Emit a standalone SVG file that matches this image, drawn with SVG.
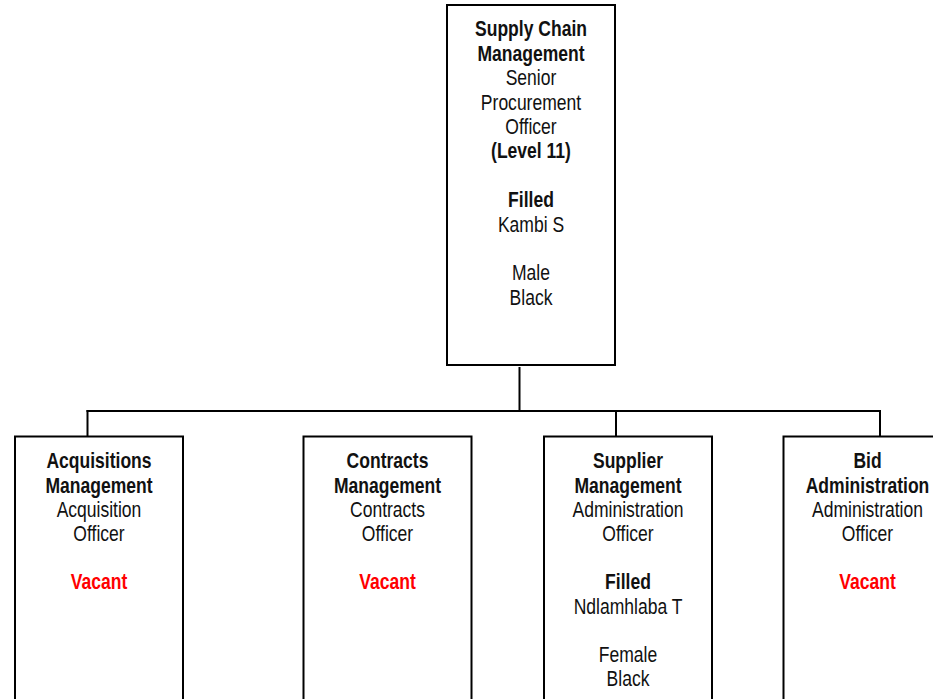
<svg xmlns="http://www.w3.org/2000/svg" width="933" height="699" viewBox="0 0 933 699">
  <style>
    .box { fill: #fff; stroke: #000; stroke-width: 2; }
    .wire { fill: none; stroke: #000; stroke-width: 2; }
    text { font-family: "Liberation Sans", Arial, sans-serif; font-size: 21.5px; text-anchor: middle; fill: #111; }
    .b { font-weight: bold; }
    .vac { fill: #ff0000; font-weight: bold; }
  </style>
  <rect width="933" height="699" fill="#fff"/>

  <g id="connectors">
    <line class="wire" x1="519.5" y1="367" x2="519.5" y2="411"/>
    <line class="wire" x1="86.5" y1="411" x2="881" y2="411"/>
    <line class="wire" x1="87.5" y1="410" x2="87.5" y2="437"/>
    <line class="wire" x1="616" y1="410" x2="616" y2="437"/>
    <line class="wire" x1="880" y1="410" x2="880" y2="437"/>
  </g>

  <!-- labels are set in a condensed face: horizontal scale on each label block -->
  <g id="supply-chain-management">
    <rect class="box" x="447" y="5" width="168" height="360"/>
    <g transform="translate(531,0) scale(0.815,1)">
      <text x="0" y="36.5" class="b">Supply Chain</text>
      <text x="0" y="60.9" class="b">Management</text>
      <text x="0" y="85.3">Senior</text>
      <text x="0" y="109.7">Procurement</text>
      <text x="0" y="134.1">Officer</text>
      <text x="0" y="158.5" class="b">(Level 11)</text>
      <text x="0" y="207.3" class="b">Filled</text>
      <text x="0" y="231.7">Kambi S</text>
      <text x="0" y="280.5">Male</text>
      <text x="0" y="304.9">Black</text>
    </g>
  </g>

  <g id="acquisitions-management">
    <rect class="box" x="15" y="436.5" width="168" height="280"/>
    <g transform="translate(99,0) scale(0.815,1)">
      <text x="0" y="468.5" class="b">Acquisitions</text>
      <text x="0" y="492.7" class="b">Management</text>
      <text x="0" y="516.9">Acquisition</text>
      <text x="0" y="541.1">Officer</text>
      <text x="0" y="589.5" class="vac">Vacant</text>
    </g>
  </g>

  <g id="contracts-management">
    <rect class="box" x="303.5" y="436.5" width="168" height="280"/>
    <g transform="translate(387.5,0) scale(0.815,1)">
      <text x="0" y="468.5" class="b">Contracts</text>
      <text x="0" y="492.7" class="b">Management</text>
      <text x="0" y="516.9">Contracts</text>
      <text x="0" y="541.1">Officer</text>
      <text x="0" y="589.5" class="vac">Vacant</text>
    </g>
  </g>

  <g id="supplier-management">
    <rect class="box" x="544" y="436.5" width="168" height="280"/>
    <g transform="translate(628,0) scale(0.815,1)">
      <text x="0" y="468.5" class="b">Supplier</text>
      <text x="0" y="492.7" class="b">Management</text>
      <text x="0" y="516.9">Administration</text>
      <text x="0" y="541.1">Officer</text>
      <text x="0" y="589.5" class="b">Filled</text>
      <text x="0" y="613.7">Ndlamhlaba T</text>
      <text x="0" y="662.1">Female</text>
      <text x="0" y="686.3">Black</text>
    </g>
  </g>

  <g id="bid-administration">
    <rect class="box" x="783.5" y="436.5" width="168" height="280"/>
    <g transform="translate(867.5,0) scale(0.815,1)">
      <text x="0" y="468.5" class="b">Bid</text>
      <text x="0" y="492.7" class="b">Administration</text>
      <text x="0" y="516.9">Administration</text>
      <text x="0" y="541.1">Officer</text>
      <text x="0" y="589.5" class="vac">Vacant</text>
    </g>
  </g>
</svg>
